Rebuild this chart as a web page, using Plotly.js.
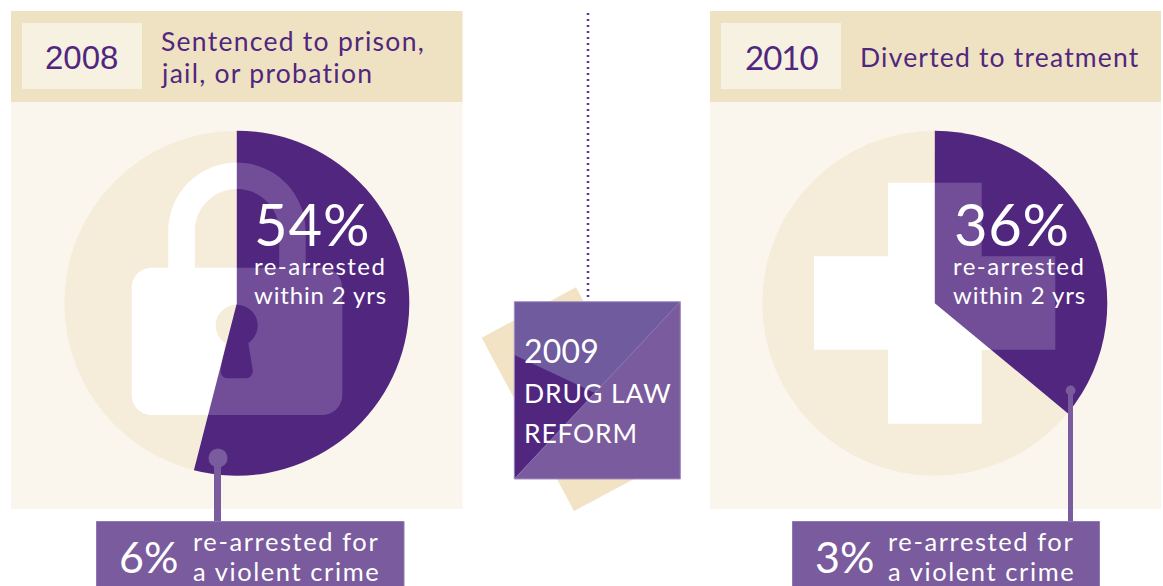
<!DOCTYPE html>
<html>
<head>
<meta charset="utf-8">
<script src="https://cdn.plot.ly/plotly-3.0.1.min.js"></script>
<style>
html, body { margin: 0; padding: 0; background: #fff; overflow: hidden; }
#chart { width: 1163px; height: 586px; }
</style>
</head>
<body>
<div id="chart"></div>
<script>
// Re-arrest outcomes before and after the 2009 drug law reform
const years = ['2008', '2010'];
const outcomes = [['Sentenced to prison,', 'jail, or probation'], ['Diverted to treatment']];
const rearrested = [54, 36];
const violent = [6, 3];
const reformYear = '2009';
const reformLines = ['DRUG LAW', 'REFORM'];

const W = 1163, H = 586;
const PURPLE = '#50267f', MID = '#7a5b9d', HEADER = '#efe2c2', PANEL = '#faf6ee', YEARBOX = '#f7f1e1';
const DISC = '#f5edd9', RECT = '#f1e3c4', GHOST = 'rgba(255,255,255,0.19)';
const FONT = 'Lato, "Open Sans", sans-serif';
const R = 172.5, CY = 303.2, CX = [236.8, 934.8];

const rect = (x0, y0, x1, y1, fill, extra) => Object.assign(
  { type: 'rect', xref: 'x', yref: 'y', x0, y0, x1, y1, fillcolor: fill, line: { width: 0 }, layer: 'below' }, extra || {});
const circle = (cx, cy, r, fill, layer) => (
  { type: 'circle', xref: 'x', yref: 'y', x0: cx - r, x1: cx + r, y0: cy - r, y1: cy + r, fillcolor: fill, line: { width: 0 }, layer });
const poly = (pts, fill, extra) => Object.assign(
  { type: 'path', xref: 'x', yref: 'y', path: 'M' + pts.map(p => p.join(',')).join('L') + 'Z', fillcolor: fill, line: { width: 0 }, layer: 'below' }, extra || {});

// Quarter-ellipse helper: Plotly paths have no arc command, so corners use cubics
const K = 0.5523;
function q(x0, y0, x1, y1, horizFirst) {
  const dx = x1 - x0, dy = y1 - y0;
  return horizFirst
    ? `C${x0 + K * dx},${y0} ${x1},${y1 - K * dy} ${x1},${y1}`
    : `C${x0},${y0 + K * dy} ${x1 - K * dx},${y1} ${x1},${y1}`;
}

// Padlock outline with the shackle opening and the keyhole as even-odd holes
function lockPath() {
  const L = 131.7, Rt = 342.3, T = 267.7, B = 415, c = 20, mid = 237;
  const body = `M${L + c},${T}L${Rt - c},${T}` + q(Rt - c, T, Rt, T + c, true) + `L${Rt},${B - c}` + q(Rt, B - c, Rt - c, B, false) +
    `L${L + c},${B}` + q(L + c, B, L, B - c, true) + `L${L},${T + c}` + q(L, T + c, L + c, T, false) + 'Z';
  const arcY = 231.3, ro = 68.7, ri = 42.2;
  const shackle = `M${mid - ro},${T}L${mid - ro},${arcY}` +
    `C${mid - ro},${arcY - K * ro} ${mid - K * ro},${arcY - ro} ${mid},${arcY - ro}` +
    `C${mid + K * ro},${arcY - ro} ${mid + ro},${arcY - K * ro} ${mid + ro},${arcY}` +
    `L${mid + ro},${T}L${mid + ri},${T}L${mid + ri},${arcY}` +
    `C${mid + ri},${arcY - K * ri} ${mid + K * ri},${arcY - ri} ${mid},${arcY - ri}` +
    `C${mid - K * ri},${arcY - ri} ${mid - ri},${arcY - K * ri} ${mid - ri},${arcY}` +
    `L${mid - ri},${T}Z`;
  const kx = 236.7, ky = 325.7, kr = 21;
  const keyhole = `M${kx - 11.6},343` +
    `C${kx - 17},339 ${kx - kr},333 ${kx - kr},${ky}` +
    `C${kx - kr},${ky - K * kr} ${kx - K * kr},${ky - kr} ${kx},${ky - kr}` +
    `C${kx + K * kr},${ky - kr} ${kx + kr},${ky - K * kr} ${kx + kr},${ky}` +
    `C${kx + kr},333 ${kx + 17},339 ${kx + 11.6},343` +
    `L${kx + 16},370C${kx + 16.5},375 ${kx + 13},378.3 ${kx + 9},378.3L${kx - 9},378.3` +
    `C${kx - 13},378.3 ${kx - 16.5},375 ${kx - 16},370Z`;
  return body + shackle + keyhole;
}

function crossPath() {
  const pts = [[888, 182.7], [981.7, 182.7], [981.7, 256.3], [1055.3, 256.3], [1055.3, 349.7], [981.7, 349.7],
               [981.7, 423.7], [888, 423.7], [888, 349.7], [814, 349.7], [814, 256.3], [888, 256.3]];
  return 'M' + pts.map(p => p.join(',')).join('L') + 'Z';
}
const iconShape = (path, fill, layer) => ({ type: 'path', xref: 'x', yref: 'y', path, fillcolor: fill, fillrule: 'evenodd', line: { width: 0 }, layer });

const shapes = [
  // panels
  rect(11, 102, 462.5, 509, PANEL), rect(11, 11, 462.5, 102, HEADER), rect(22, 23, 142, 89, YEARBOX),
  rect(710, 102, 1161, 509, PANEL), rect(710, 11, 1161, 102, HEADER), rect(721, 23, 841, 89, YEARBOX),
  // discs and icons under the wedges
  circle(CX[0], CY, R, DISC, 'below'), circle(CX[1], CY, R, DISC, 'below'),
  iconShape(lockPath(), '#ffffff', 'below'), iconShape(crossPath(), '#ffffff', 'below'),
  // icons showing faintly through the wedges
  iconShape(lockPath(), GHOST, 'above'), iconShape(crossPath(), GHOST, 'above'),
  // reform box
  poly([[481.7, 337.7], [576, 287.3], [668.3, 460.7], [574, 511]], RECT),
  rect(514.3, 301.7, 680.3, 479, '#6f5b9e'),
  poly([[514.3, 355], [595, 393], [514.3, 479]], PURPLE),
  poly([[680.3, 301.7], [680.3, 479], [514.3, 479]], MID),
  { type: 'path', xref: 'x', yref: 'y', path: 'M514.3,479L680.3,301.7', line: { color: '#9c85bb', width: 0.7 }, layer: 'below' },
  rect(514.3, 301.7, 680.3, 479, 'rgba(0,0,0,0)', { line: { color: '#a48fc2', width: 1 } }),
  // callouts
  rect(96.5, 521.5, 404, 590, MID, { layer: 'above', line: { color: '#9079b0', width: 1 } }),
  rect(792.5, 521.5, 1099.5, 590, MID, { layer: 'above', line: { color: '#9079b0', width: 1 } }),
  rect(214, 458, 221, 521, MID, { layer: 'above' }), circle(218, 458, 9.5, MID, 'above'),
  rect(1068, 391, 1073, 521, MID, { layer: 'above' }), circle(1070.6, 390.5, 4.9, MID, 'above')
];

// A single line of text placed by its left edge and baseline, with its own tracking
const tracking = [];
function label(text, x, baseline, size, color, spacing, family) {
  tracking.push(spacing);
  return {
    xref: 'x', yref: 'y', x, y: baseline - size * 0.38, text, showarrow: false,
    xanchor: 'left', yanchor: 'middle', align: 'left', borderpad: 0, borderwidth: 0,
    font: { family: family || FONT, size, color }
  };
}
const WHITE = '#ffffff';
const annotations = [
  label(years[0], 45, 70, 33, PURPLE, 0, '"Liberation Sans", sans-serif'),
  label(outcomes[0][0], 161, 51, 26.5, PURPLE, 0.048),
  label(outcomes[0][1], 161, 83, 26.5, PURPLE, 0.048),
  label(years[1], 745, 70, 33, PURPLE, -0.03),
  label(outcomes[1][0], 860, 67, 26.5, PURPLE, 0.045),
  label(rearrested[0] + '%', 254, 246, 58, WHITE, 0.015),
  label('re-arrested', 254, 275, 24, WHITE, 0.06),
  label('within 2 yrs', 254, 304, 24, WHITE, 0.035),
  label(rearrested[1] + '%', 954, 246, 58, WHITE, 0.01),
  label('re-arrested', 953, 275, 24, WHITE, 0.06),
  label('within 2 yrs', 953, 304, 24, WHITE, 0.035),
  label(reformYear, 524, 363, 32, WHITE, 0.005),
  label(reformLines[0], 524, 403, 26.5, WHITE, 0.035),
  label(reformLines[1], 524, 443, 26.5, WHITE, 0.03),
  label(violent[0] + '%', 119, 573, 43, WHITE, 0.0),
  label('re-arrested for', 193, 551, 25.5, WHITE, 0.062),
  label('a violent crime', 193, 581, 25.5, WHITE, 0.062),
  label(violent[1] + '%', 815, 573, 43, WHITE, 0.0),
  label('re-arrested for', 888, 551, 25.5, WHITE, 0.062),
  label('a violent crime', 888, 581, 25.5, WHITE, 0.062)
];

// Tracking has to be in place before Plotly measures the annotation text
const sheet = document.createElement('style');
sheet.textContent = tracking.map((s, i) => `.annotation[data-index="${i}"] .annotation-text { letter-spacing: ${s}em; }`).join('\n');
document.head.appendChild(sheet);

// Wedges start at twelve o'clock and run clockwise; the remainder stays see-through
const wedge = (value, cx) => ({
  type: 'pie', values: [value, 100 - value], sort: false, direction: 'clockwise', rotation: 0,
  marker: { colors: [PURPLE, 'rgba(0,0,0,0)'], line: { width: 0 } },
  textinfo: 'none', hoverinfo: 'skip', showlegend: false,
  domain: { x: [(cx - R) / W, (cx + R) / W], y: [1 - (CY + R) / H, 1 - (CY - R) / H] }
});

const timeline = {
  type: 'scatter', mode: 'lines', x: [588, 588], y: [13, 299],
  line: { color: '#5a3590', width: 2.5, dash: '2px,4px' }, hoverinfo: 'skip', showlegend: false
};

Plotly.newPlot('chart', [timeline, wedge(rearrested[0], CX[0]), wedge(rearrested[1], CX[1])], {
  width: W, height: H, margin: { l: 0, r: 0, t: 0, b: 0, pad: 0 },
  paper_bgcolor: '#ffffff', plot_bgcolor: 'rgba(0,0,0,0)', showlegend: false,
  xaxis: { range: [0, W], visible: false, fixedrange: true },
  yaxis: { range: [H, 0], visible: false, fixedrange: true },
  shapes, annotations
}, { displayModeBar: false, staticPlot: true });
</script>
</body>
</html>
